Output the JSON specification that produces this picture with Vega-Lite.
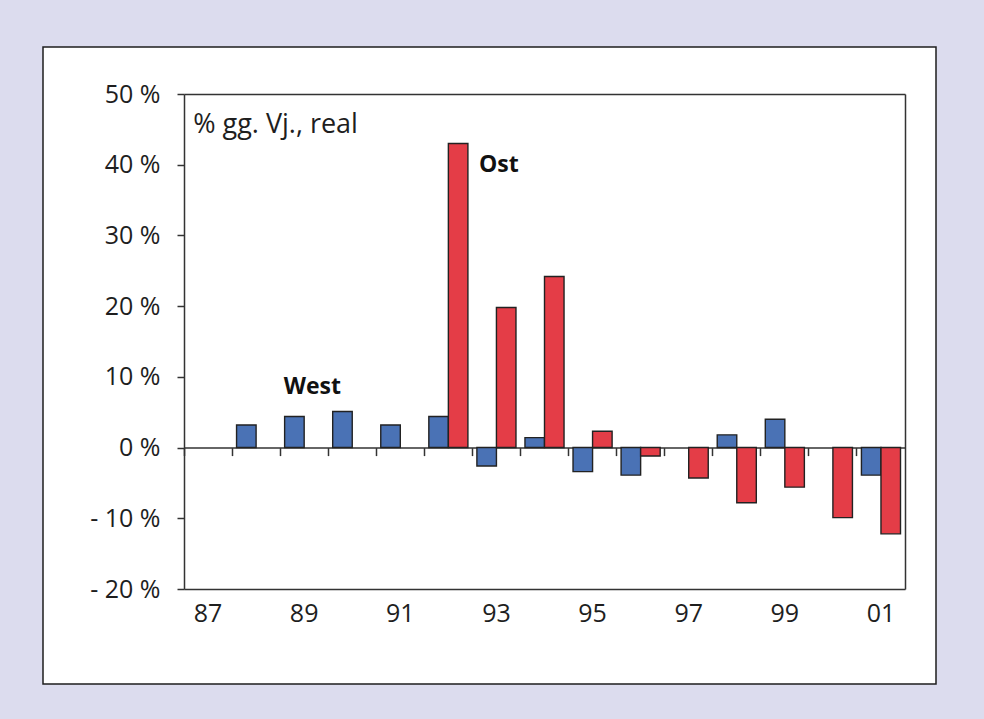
{
  "$schema": "https://vega.github.io/schema/vega-lite/v6.json",
  "width": 893,
  "height": 637,
  "autosize": {"type": "none"},
  "padding": {"left": 43, "top": 47, "right": 48, "bottom": 35},
  "background": "#dcdcee",
  "config": {
    "view": {"fill": "#ffffff", "stroke": "#1e1e1e", "strokeWidth": 1.5},
    "font": "Open Sans",
    "axis": {
      "labelFont": "Open Sans",
      "labelColor": "#1e1e1e",
      "domainColor": "#333333",
      "domainWidth": 1.5,
      "tickColor": "#333333",
      "tickWidth": 1.5,
      "grid": false
    }
  },
  "datasets": {
    "wachstum": [
      {"jahr": 1988, "region": "West", "wert": 3.2},
      {"jahr": 1989, "region": "West", "wert": 4.4},
      {"jahr": 1990, "region": "West", "wert": 5.1},
      {"jahr": 1991, "region": "West", "wert": 3.2},
      {"jahr": 1992, "region": "West", "wert": 4.4},
      {"jahr": 1993, "region": "West", "wert": -2.6},
      {"jahr": 1994, "region": "West", "wert": 1.4},
      {"jahr": 1995, "region": "West", "wert": -3.4},
      {"jahr": 1996, "region": "West", "wert": -3.9},
      {"jahr": 1998, "region": "West", "wert": 1.8},
      {"jahr": 1999, "region": "West", "wert": 4.0},
      {"jahr": 2001, "region": "West", "wert": -3.9},
      {"jahr": 1992, "region": "Ost", "wert": 43.0},
      {"jahr": 1993, "region": "Ost", "wert": 19.8},
      {"jahr": 1994, "region": "Ost", "wert": 24.2},
      {"jahr": 1995, "region": "Ost", "wert": 2.3},
      {"jahr": 1996, "region": "Ost", "wert": -1.2},
      {"jahr": 1997, "region": "Ost", "wert": -4.3},
      {"jahr": 1998, "region": "Ost", "wert": -7.8},
      {"jahr": 1999, "region": "Ost", "wert": -5.6},
      {"jahr": 2000, "region": "Ost", "wert": -9.9},
      {"jahr": 2001, "region": "Ost", "wert": -12.2}
    ]
  },
  "layer": [
    {
      "data": {"name": "wachstum"},
      "mark": {"type": "bar", "stroke": "#222222", "strokeWidth": 1.4},
      "encoding": {
        "x": {
          "field": "jahr",
          "type": "ordinal",
          "scale": {
            "type": "band",
            "domain": [1987, 1988, 1989, 1990, 1991, 1992, 1993, 1994, 1995, 1996, 1997, 1998, 1999, 2000, 2001],
            "range": [141, 862],
            "paddingInner": 0,
            "paddingOuter": 0
          },
          "axis": {
            "orient": "bottom",
            "offset": -95,
            "title": null,
            "ticks": false,
            "domain": true,
            "labelAngle": 0,
            "labelFontSize": 25,
            "labelPadding": 12,
            "labelExpr": "datum.value % 2 == 1 ? slice('' + datum.value, -2) : ''"
          }
        },
        "xOffset": {
          "field": "region",
          "type": "nominal",
          "scale": {"domain": ["West", "Ost"], "paddingInner": 0, "paddingOuter": 0.23}
        },
        "y": {
          "field": "wert",
          "type": "quantitative",
          "scale": {"domain": [-20, 50], "range": [542, 47], "nice": false, "zero": false},
          "axis": {
            "orient": "left",
            "offset": -141,
            "title": null,
            "values": [-20, -10, 0, 10, 20, 30, 40, 50],
            "tickSize": 7,
            "labelPadding": 17,
            "labelFontSize": 25,
            "labelExpr": "datum.value < 0 ? '- ' + abs(datum.value) + ' %' : datum.value + ' %'"
          }
        },
        "color": {
          "field": "region",
          "type": "nominal",
          "scale": {"domain": ["West", "Ost"], "range": ["#4a72b5", "#e43d47"]},
          "legend": null
        }
      }
    },
    {
      "data": {"values": [{"text": "% gg. Vj., real"}]},
      "mark": {"type": "text", "align": "left", "baseline": "middle", "fontSize": 27, "color": "#1e1e1e"},
      "encoding": {
        "text": {"field": "text", "type": "nominal"},
        "x": {
          "datum": 1987,
          "type": "ordinal",
          "bandPosition": 0.19,
          "axis": {"orient": "top", "offset": -47, "title": null, "ticks": false, "labels": false, "domain": true}
        },
        "y": {
          "datum": 45.6,
          "type": "quantitative",
          "axis": {"orient": "right", "offset": -31, "title": null, "ticks": false, "labels": false, "domain": true}
        }
      }
    },
    {
      "data": {"values": [{"text": "West"}]},
      "mark": {"type": "text", "align": "center", "baseline": "middle", "fontSize": 23, "fontWeight": "bold", "color": "#111111"},
      "encoding": {
        "text": {"field": "text", "type": "nominal"},
        "x": {
          "datum": 1989,
          "type": "ordinal",
          "bandPosition": 0.67,
          "axis": {
            "orient": "bottom",
            "offset": -236.4,
            "title": null,
            "labels": false,
            "ticks": true,
            "tickSize": 8,
            "bandPosition": 0,
            "domain": true
          }
        },
        "y": {"datum": 8.6, "type": "quantitative", "axis": null}
      }
    },
    {
      "data": {"values": [{"text": "Ost"}]},
      "mark": {"type": "text", "align": "center", "baseline": "middle", "fontSize": 23, "fontWeight": "bold", "color": "#111111"},
      "encoding": {
        "text": {"field": "text", "type": "nominal"},
        "x": {"datum": 1993, "type": "ordinal", "bandPosition": 0.55, "axis": null},
        "y": {"datum": 40.0, "type": "quantitative", "axis": null}
      }
    }
  ],
  "resolve": {"axis": {"x": "independent", "y": "independent"}}
}
